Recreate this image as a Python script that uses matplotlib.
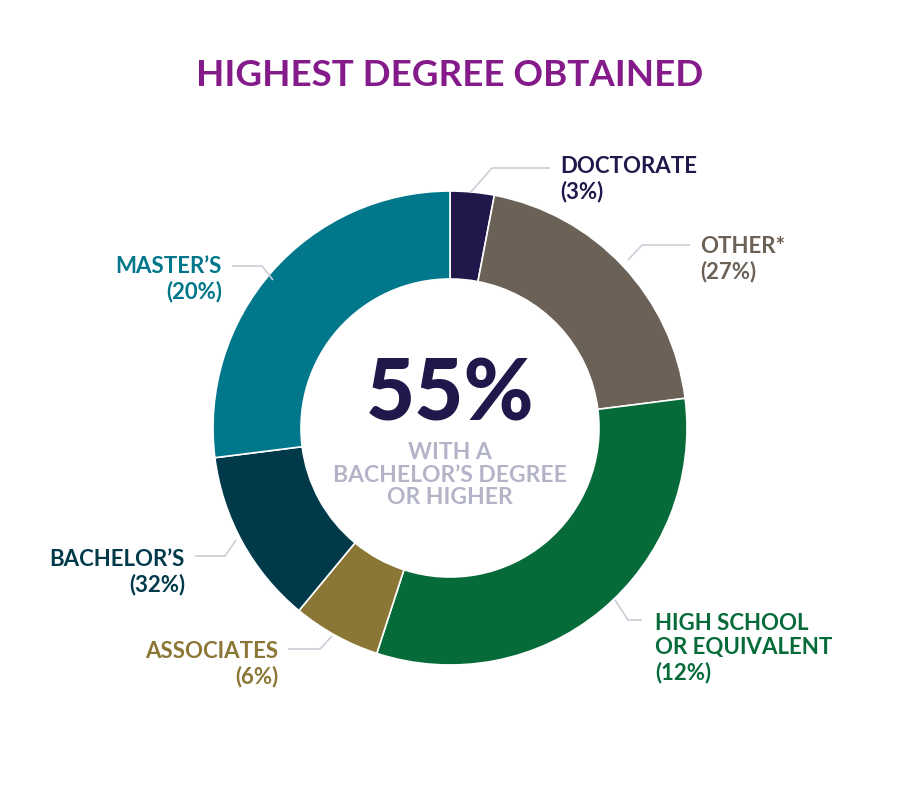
import matplotlib
matplotlib.use("Agg")
import matplotlib.pyplot as plt

# ---- data ----
categories = ["DOCTORATE", "OTHER*", "HIGH SCHOOL\nOR EQUIVALENT", "ASSOCIATES", "BACHELOR\u2019S", "MASTER\u2019S"]
slice_shares = [3, 20, 32, 6, 12, 27]          # wedge sizes as drawn
label_pcts = ["3%", "27%", "12%", "6%", "32%", "20%"]  # percentages as printed
colors = ["#21174a", "#6b6157", "#066b38", "#8b7735", "#003a4a", "#00778a"]
title = "HIGHEST DEGREE OBTAINED"
center_big = "55%"
center_sub = "WITH A\nBACHELOR\u2019S DEGREE\nOR HIGHER"

W, H = 900, 787
fig = plt.figure(figsize=(W / 100, H / 100), dpi=100)
ax = fig.add_axes([0, 0, 1, 1])


def Y(y):
    return H - y


FONT = "Lato"
cx, cy, R, r = 450, 428, 237, 149

ax.pie(slice_shares, colors=colors, startangle=90, counterclock=False,
       center=(cx, Y(cy)), radius=R,
       wedgeprops=dict(width=R - r, edgecolor="white", linewidth=1.2))
ax.set_xlim(0, W)
ax.set_ylim(0, H)
ax.set_aspect("equal")
ax.axis("off")

ax.text(450, Y(75), title, ha="center", va="center", fontsize=26.5, fontweight="bold",
        color="#851b8a", family=FONT)

ax.text(450, Y(396), center_big, ha="center", va="center", fontsize=61, fontweight="black",
        color="#21174a", family=FONT)
ax.text(450, Y(475), center_sub, ha="center", va="center", fontsize=16.5, fontweight="bold",
        color="#b4b4c8", family=FONT, linespacing=1.1)

lc = "#cdcdd8"
# label layout: (leader points, text x, text y, ha)
layout = [
    ([(470, 193), (492, 168), (550, 168)], 560, 165, "left"),
    ([(628, 260), (642, 245), (690, 245)], 700, 245, "left"),
    ([(615, 600), (628, 620), (642, 620)], 655, 622, "left"),
    ([(332, 636), (320, 649), (288, 649)], 278, 650, "right"),
    ([(236, 540), (225, 556), (195, 556)], 185, 558, "right"),
    ([(273, 280), (262, 266), (232, 266)], 222, 265, "right"),
]
for (pts, tx, ty, ha), cat, pct, col in zip(layout, categories, label_pcts, colors):
    xs, ys = zip(*pts)
    ax.plot(xs, [Y(v) for v in ys], color=lc, lw=1.2, solid_capstyle="butt")
    ax.text(tx, Y(ty - 9), cat + "\n(" + pct + ")", ha=ha, va="top", fontsize=16,
            fontweight="bold", color=col, family=FONT, linespacing=1.18)

fig.savefig("out.png", dpi=100)
